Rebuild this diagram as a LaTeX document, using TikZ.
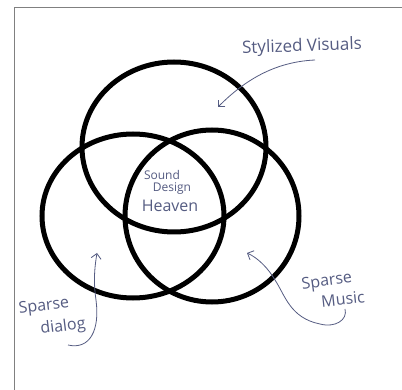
\documentclass[tikz,border=0pt]{standalone}
\usepackage{fontspec}
\setmainfont{Open Sans}
\usetikzlibrary{arrows.meta}
\definecolor{ink}{RGB}{85,92,130}
\definecolor{frame}{RGB}{128,128,128}
\tikzset{
  ring/.style={draw=black, line width=5pt},
  hand/.style={text=ink, font=\fontsize{16}{16}\selectfont, inner sep=0pt},
  pointer/.style={draw=ink, line width=0.8pt, -{Straight Barb[length=5pt,width=10pt]}},
}
\begin{document}
\begin{tikzpicture}[x=1pt,y=-1pt]
\useasboundingbox (0,0) rectangle (402,390);
\fill[white] (0,0) rectangle (402,390);
% frame
\draw[frame, line width=1.5pt] (14.5,391) -- (14.5,7.5) -- (403,7.5);
% circles
\draw[ring] (174,147) ellipse [x radius=92, y radius=85];
\draw[ring] (133,216) ellipse [x radius=91, y radius=82];
\draw[ring] (212,216) ellipse [x radius=87, y radius=86];
% labels
\node[hand, font=\fontsize{17}{17}\selectfont, rotate=2] (vis) at (302,47) {Stylized Visuals};
\node[hand, font=\fontsize{12}{12}\selectfont] (sound) at (162,175) {Sound};
\node[hand, font=\fontsize{12}{12}\selectfont] (design) at (172,189) {Design};
\node[hand, font=\fontsize{16}{16}\selectfont] (heaven) at (170,206) {Heaven};
\node[hand, rotate=7] (sp1) at (44,307) {Sparse};
\node[hand, rotate=7] (dialog) at (63,327) {dialog};
\node[hand, rotate=8] (sp2) at (327,282) {Sparse};
\node[hand, rotate=6] (music) at (343,299) {Music};
% arrow endpoints
\coordinate (visA) at (315,60);
\coordinate (visB) at (218,107);
\coordinate (dlA) at (68,345);
\coordinate (dlB) at (97,253);
\coordinate (muA) at (345,309);
\coordinate (muB) at (247,253);
\draw[pointer] (visA) .. controls (270,62) and (240,85) .. (visB);
\draw[pointer] (dlA) .. controls (90,350) and (100,330) .. (96,300) .. controls (93,280) and (95,265) .. (dlB);
\draw[pointer] (muA) .. controls (348,320) and (335,328) .. (320,324) .. controls (290,318) and (285,295) .. (275,280) .. controls (268,268) and (258,258) .. (muB);
\end{tikzpicture}
\end{document}
